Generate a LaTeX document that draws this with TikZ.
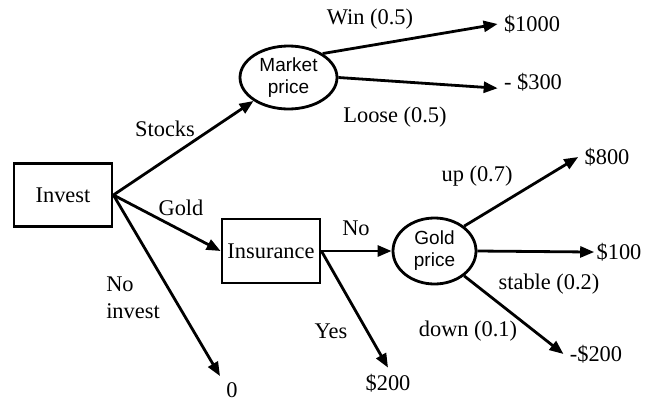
\documentclass[tikz,border=0pt]{standalone}
\usepackage{fontspec}
\setmainfont{Liberation Serif}
\setsansfont{Liberation Sans}
\usepackage{tikz}
\usetikzlibrary{positioning}
\usetikzlibrary{shapes,arrows.meta}

\begin{document}
\begin{tikzpicture}[x=0.5pt,y=-0.5pt,>={Triangle[length=7pt,width=5.5pt]},
  font=\fontsize{11.2}{13.5}\selectfont,
  decision/.style={draw,line width=1.4pt,minimum width=49pt,minimum height=31.5pt,inner sep=0pt},
  chance/.style={ellipse,draw,line width=1.4pt,inner sep=0pt,align=center,
    font=\sffamily\fontsize{9.5}{11}\selectfont},
  payoff/.style={inner sep=3pt},
  branch/.style={inner sep=0pt,align=left}]
\useasboundingbox (0,0) rectangle (646,402);
\node[decision] at (63,195) (Invest) {Invest};
\node[chance,minimum width=48.5pt,minimum height=31.5pt] at (288.5,77.5) (Market) {Market\\price};
\node[decision,minimum height=32pt] at (271,251) (Insur) {Insurance};
\node[chance,minimum width=41.5pt,minimum height=33pt] at (434.5,251) (Goldp) {Gold\\price};
% payoffs
\node[payoff] at (532,24) (Pwin) {\$1000};
\node[payoff] at (533,82) (Ploose) {- \$300};
\node[payoff] at (607,157) (Pup) {\$800};
\node[payoff] at (619,252) (Pstable) {\$100};
\node[payoff] at (596,354) (Pdown) {-\$200};
\node[payoff] at (388,383) (Pyes) {\$200};
\node[payoff] at (232,390) (Pnone) {0};
% branch labels
\node[branch] at (370,19) (Lwin) {Win (0.5)};
\node[branch] at (395,117) (Lloose) {Loose (0.5)};
\node[branch] at (165,129) (Lstocks) {Stocks};
\node[branch] at (181,208) (Lgold) {Gold};
\node[branch] at (133,298) (Lnone) {No\\invest};
\node[branch] at (356,228) (Lno) {No};
\node[branch] at (331,331) (Lyes) {Yes};
\node[branch] at (477,176) (Lup) {up (0.7)};
\node[branch] at (549,284) (Lstable) {stable (0.2)};
\node[branch] at (468,331) (Ldown) {down (0.1)};
\draw[->, line width=1.4pt] (Invest.east) -- (Market);
\draw[->, line width=1.4pt] (Invest.east) -- (Insur.west);
\draw[->, line width=1.4pt] (Invest.east) -- (Pnone.north west);
\draw[->, line width=1.4pt] (Market.35) -- (Pwin.west);
\draw[->, line width=1.4pt] (Market.east) -- (Ploose.190);
\draw[->, line width=1.4pt] (Insur.east) -- (Goldp.west);
\draw[->, line width=1.4pt] (Insur.east) -- (Pyes.north);
\draw[->, line width=1.4pt] (Goldp.40) -- (Pup.west);
\draw[->, line width=1.4pt, shorten >=-2pt] (Goldp.east) -- (Pstable.west);
\draw[->, line width=1.4pt] (Goldp.-40) -- (Pdown.west);
\end{tikzpicture}
\end{document}
